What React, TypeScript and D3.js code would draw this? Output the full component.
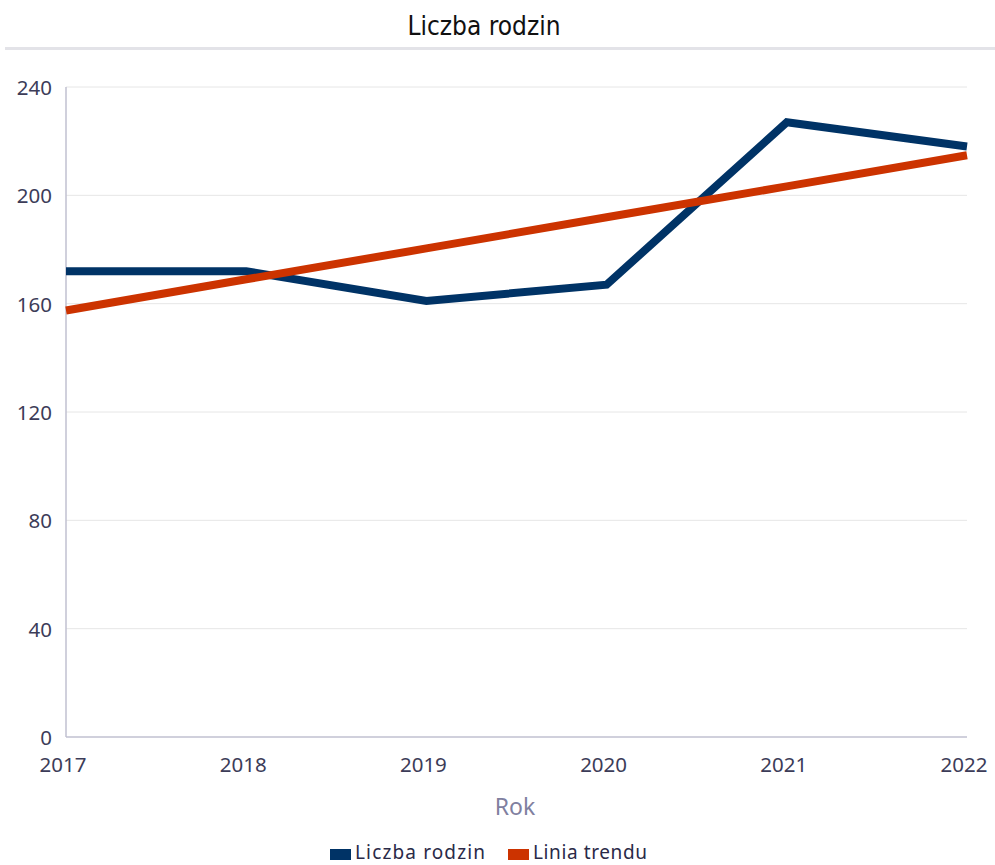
import React from "react";
import * as d3 from "d3";

const years = ["2017", "2018", "2019", "2020", "2021", "2022"];
const families = [172, 172, 161, 167, 227, 218];
const trend = [157.5, 169, 180.4, 191.9, 203.3, 214.8];
const yTicks = [0, 40, 80, 120, 160, 200, 240];
const seriesNames = ["Liczba rodzin", "Linia trendu"];
const colors = ["#003366", "#cc3300"];

const W = 995, H = 865;
const m = { left: 66, right: 28, top: 87, bottom: 128 };

export default function App() {
  const x = d3.scalePoint<string>().domain(years).range([m.left, W - m.right]);
  const y = d3.scaleLinear().domain([0, 240]).range([H - m.bottom, m.top]);
  const line = d3.line<number>().x((_, i) => x(years[i])!).y((d) => y(d));
  const font = "'Noto Sans', 'Open Sans', sans-serif";
  const tickColor = "#3c3c58";
  return (
    <svg width={W} height={H} style={{ position: "absolute", left: 0, top: 0 }}>
      <text x={484} y={35} textAnchor="middle" fontFamily="'DejaVu Sans Condensed', 'Liberation Sans Narrow', sans-serif" fontSize={26} fill="#111">Liczba rodzin</text>
      <line x1={5} x2={W} y1={48.5} y2={48.5} stroke="#e3e3e8" strokeWidth={3} />
      {yTicks.map((t) => (
        <g key={t}>
          {t > 0 && <line x1={m.left} x2={W - m.right} y1={y(t)} y2={y(t)} stroke="#e6e6e6" strokeWidth={1} />}
          <text x={52} y={y(t) + 8} textAnchor="end" fontFamily={font} fontSize={20.5} fill={tickColor}>{t}</text>
        </g>
      ))}
      <line x1={m.left} x2={m.left} y1={m.top} y2={y(0)} stroke="#c0c0d0" strokeWidth={1.5} />
      <line x1={m.left} x2={W - m.right} y1={y(0)} y2={y(0)} stroke="#c0c0d0" strokeWidth={1.5} />
      {years.map((yr) => (
        <text key={yr} x={x(yr)! - 3} y={772} textAnchor="middle" fontFamily={font} fontSize={20.5} fill={tickColor}>{yr}</text>
      ))}
      <text x={515} y={815} textAnchor="middle" fontFamily={font} fontSize={23} fill="#8080a0">Rok</text>
      <path d={line(families)!} fill="none" stroke={colors[0]} strokeWidth={8} strokeLinejoin="miter" />
      <path d={line(trend)!} fill="none" stroke={colors[1]} strokeWidth={8} />
      <g fontFamily={font} fontSize={19} fill="#2a2a48">
        <rect x={330} y={849} width={21} height={11} fill={colors[0]} />
        <text x={355} y={859} textLength={130}>{seriesNames[0]}</text>
        <rect x={508} y={849} width={21} height={11} fill={colors[1]} />
        <text x={533} y={859} textLength={114}>{seriesNames[1]}</text>
      </g>
    </svg>
  );
}
